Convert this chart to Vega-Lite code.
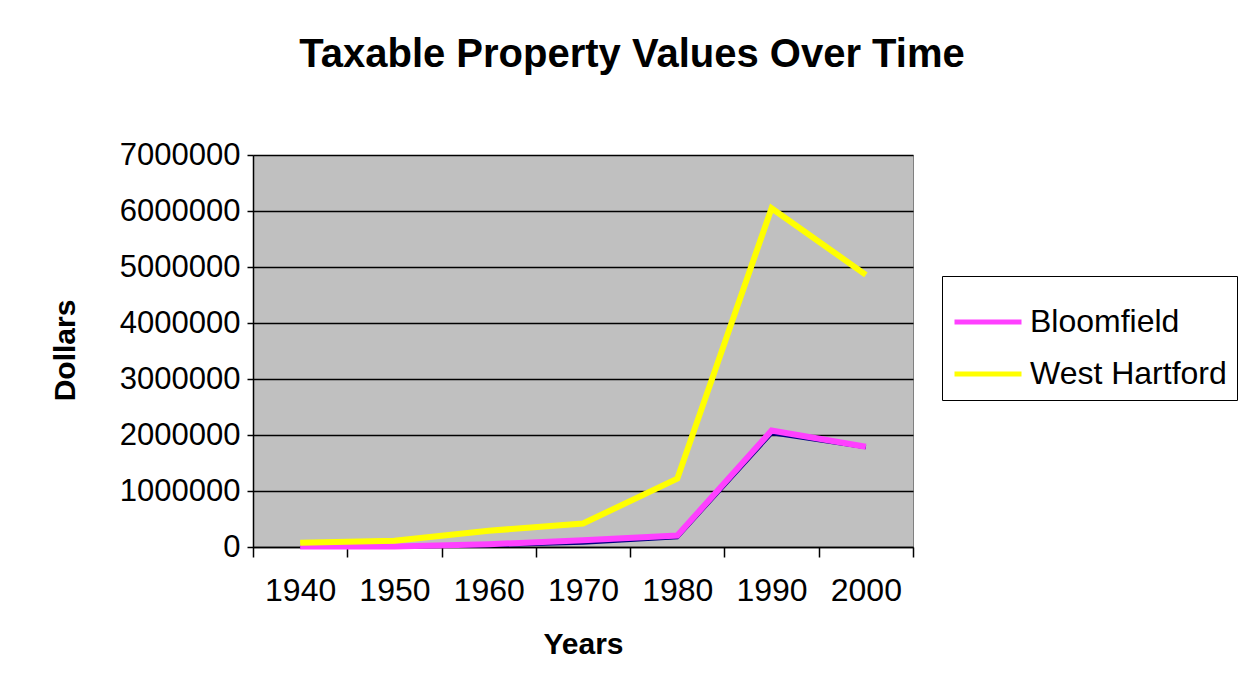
{
  "$schema": "https://vega.github.io/schema/vega-lite/v6.json",
  "autosize": {"type": "none"},
  "width": 660,
  "height": 392,
  "padding": {"left": 253, "top": 155, "right": 332, "bottom": 149},
  "background": "white",
  "title": {
    "text": "Taxable Property Values Over Time",
    "font": "Liberation Sans",
    "fontSize": 40,
    "fontWeight": "bold",
    "color": "black",
    "anchor": "middle",
    "dx": 49,
    "offset": 64
  },
  "datasets": {
    "towns": [
      {"year": 1940, "town": "Bloomfield", "value": 10000},
      {"year": 1950, "town": "Bloomfield", "value": 10000},
      {"year": 1960, "town": "Bloomfield", "value": 50000},
      {"year": 1970, "town": "Bloomfield", "value": 120000},
      {"year": 1980, "town": "Bloomfield", "value": 205000},
      {"year": 1990, "town": "Bloomfield", "value": 2080000},
      {"year": 2000, "town": "Bloomfield", "value": 1790000},
      {"year": 1940, "town": "West Hartford", "value": 75000},
      {"year": 1950, "town": "West Hartford", "value": 110000},
      {"year": 1960, "town": "West Hartford", "value": 290000},
      {"year": 1970, "town": "West Hartford", "value": 420000},
      {"year": 1980, "town": "West Hartford", "value": 1220000},
      {"year": 1990, "town": "West Hartford", "value": 6050000},
      {"year": 2000, "town": "West Hartford", "value": 4860000}
    ],
    "other": [
      {"year": 1940, "value": 0},
      {"year": 1950, "value": 5000},
      {"year": 1960, "value": 30000},
      {"year": 1970, "value": 75000},
      {"year": 1980, "value": 175000},
      {"year": 1990, "value": 2030000},
      {"year": 2000, "value": 1780000}
    ]
  },
  "config": {
    "font": "Liberation Sans",
    "view": {"fill": "#c0c0c0", "stroke": "#808080", "strokeWidth": 1}
  },
  "encoding": {
    "x": {
      "field": "year",
      "type": "ordinal",
      "title": "Years",
      "scale": {"paddingInner": 0, "paddingOuter": 0},
      "axis": {
        "labelAngle": 0,
        "labelFont": "Liberation Sans",
        "labelFontSize": 32,
        "labelColor": "black",
        "labelPadding": 18,
        "tickBand": "extent",
        "tickSize": 10,
        "tickColor": "black",
        "tickWidth": 1.5,
        "domainColor": "black",
        "domainWidth": 1.5,
        "titleFont": "Liberation Sans",
        "titleFontSize": 30,
        "titleFontWeight": "bold",
        "titleColor": "black",
        "titlePadding": 23
      }
    },
    "y": {
      "field": "value",
      "type": "quantitative",
      "title": "Dollars",
      "scale": {"domain": [0, 7000000], "nice": false},
      "axis": {
        "values": [0, 1000000, 2000000, 3000000, 4000000, 5000000, 6000000, 7000000],
        "format": "d",
        "labelFont": "Liberation Sans",
        "labelFontSize": 31,
        "labelColor": "black",
        "labelPadding": 7,
        "tickSize": 6,
        "tickColor": "black",
        "tickWidth": 1.5,
        "domainColor": "black",
        "domainWidth": 1.5,
        "grid": true,
        "gridColor": "black",
        "gridWidth": 1.5,
        "titleFont": "Liberation Sans",
        "titleFontSize": 30,
        "titleFontWeight": "bold",
        "titleColor": "black",
        "titleX": -188,
        "titleY": 195,
        "titleBaseline": "middle"
      }
    }
  },
  "layer": [
    {
      "data": {"name": "other"},
      "mark": {"type": "line", "color": "#000080", "strokeWidth": 4}
    },
    {
      "data": {"name": "towns"},
      "mark": {"type": "line", "strokeWidth": 6},
      "encoding": {
        "color": {
          "field": "town",
          "type": "nominal",
          "title": null,
          "scale": {"domain": ["Bloomfield", "West Hartford"], "range": ["#ff40ff", "#ffff00"]},
          "legend": {
            "orient": "none",
            "legendX": 689,
            "legendY": 121,
            "fillColor": "white",
            "strokeColor": "black",
            "padding": 10,
            "symbolType": "stroke",
            "symbolSize": 4489,
            "symbolStrokeWidth": 5,
            "labelFont": "Liberation Sans",
            "labelFontSize": 32,
            "labelColor": "black",
            "labelOffset": 6,
            "labelLimit": 400,
            "rowPadding": -23
          }
        }
      }
    }
  ]
}
